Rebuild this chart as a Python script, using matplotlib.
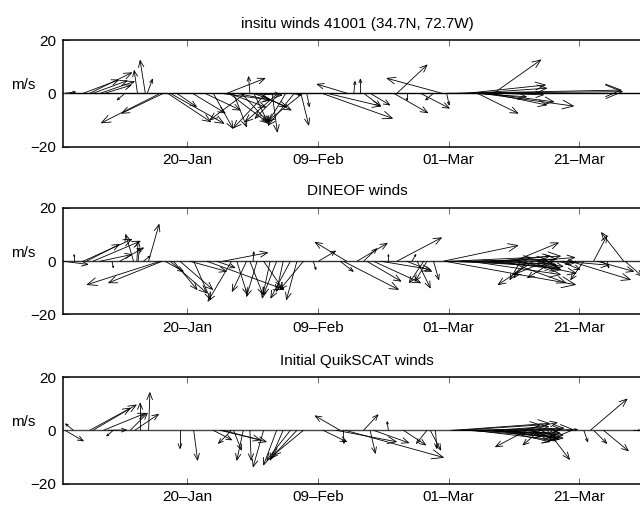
import numpy as np
import matplotlib
matplotlib.use("Agg")
import matplotlib.pyplot as plt
from matplotlib.collections import LineCollection

plt.rcParams['font.family'] = ['Liberation Sans', 'DejaVu Sans']

# time axis: days since 01-Jan
tick_days = [19, 39, 59, 79]
tick_labels = ['20\u2013Jan', '09\u2013Feb', '01\u2013Mar', '21\u2013Mar']
xlim_days = (0, 90)
ylim_ms = (-20, 20)
DAYS_PER_MS = 2.0   # horizontal stretch of the wind sticks (days per m/s)

titles = ['insitu winds 41001 (34.7N, 72.7W)', 'DINEOF winds', 'Initial QuikSCAT winds']

# ---- buoy 41001 ----
insitu_t = [0.3, 3.1, 4.1, 5.7, 4.6, 6.4, 9.5, 11.4, 12.6, 12.9, 14.9, 15.4,
            16.0, 16.4, 17.4, 19.8, 23.0, 25.1, 28.6, 24.1, 26.1, 25.4, 27.3, 29.2,
            34.1, 35.4, 36.7, 32.0, 32.9, 31.1, 29.2, 25.4, 27.3, 37.3, 36.4, 43.5,
            39.6, 40.4, 44.5, 45.5, 46.0, 47.0, 58.0, 51.1, 50.6, 52.6, 54.7, 56.7,
            58.7, 58.8, 60.8, 65.9, 61.8, 62.8, 63.4, 63.9, 64.9, 65.4, 62.3, 66.9,
            87.9, 26.5, 27.9, 29.9, 33.2, 21.7, 34.8]
insitu_u = [0.8, 2.7, 3.2, 2.6, 2.6, 2.0, -0.6, -0.25, -0.4, 0.4, -4.5, -3.2,
            3.3, 4.1, 1.5, 2.5, 1.5, 2.9, -0.1, 3.8, 1.0, 3.0, 2.1, 1.1,
            -1.4, -2.0, -2.7, 0.4, -2.5, -2.5, 2.5, 2.8, 3.1, 0.2, 0.6, -2.3,
            5.4, 4.1, 0.1, 0.0, 1.3, 1.5, -4.2, 2.3, 2.6, 0.0, 2.2, -0.6,
            0.2, 13.4, 12.3, 3.6, 6.0, 5.6, 3.1, 7.1, 5.1, 4.3, 4.3, 3.3,
            0.3, 2.6, -2.7, 2.5, -1.9, 2.7, 0.8]
insitu_v = [0.5, 5.0, 7.7, 4.4, 4.7, 3.0, -2.5, 8.5, 12.3, 5.3, -11.1, -7.5,
            -10.7, -11.3, -5.0, -7.4, -13.2, 5.6, 6.2, -2.5, -12.6, -11.2, -11.2, -11.2,
            -11.2, -12.0, -10.5, -14.5, -10.7, -13.0, -5.0, -5.2, -0.7, -5.0, -11.9, 3.4,
            -9.4, -4.8, 4.4, 5.3, -4.8, -4.4, 5.6, 10.6, -7.3, -2.5, -5.6, -2.5,
            -4.4, 0.6, 1.2, 12.5, 3.1, 1.9, -7.5, -4.8, -3.2, -4.4, -1.3, -0.6,
            0.0, -2.5, -10.0, -6.3, -9.4, -6.3, -0.6]

# ---- DINEOF reconstruction ----
dineof_t = [1.7, 0.0, 3.1, 3.6, 4.6, 5.7, 7.5, 8.7, 10.8, 11.3, 11.5, 12.3,
            13.1, 14.9, 15.2, 15.6, 16.4, 16.9, 17.9, 19.4, 20.0, 25.8, 24.5, 29.1,
            26.6, 28.1, 28.6, 29.7, 30.7, 31.7, 32.7, 33.7, 34.8, 35.8, 36.8, 22.0,
            23.5, 38.3, 43.4, 39.1, 42.4, 42.9, 45.0, 46.0, 46.5, 47.5, 49.8, 51.1,
            48.6, 52.6, 54.2, 55.7, 56.7, 55.2, 53.4, 58.2, 58.4, 58.8, 59.3, 72.0,
            69.0, 60.8, 62.3, 63.9, 65.4, 66.9, 67.9, 70.0, 71.0, 73.0, 75.1, 76.1,
            79.7, 81.2, 85.8, 81.7, 77.6, 83.3, 86.0, 71.5, 61.5, 63.0, 66.0, 68.5,
            69.5, 74.0, 76.5, 78.5, 72.5]
dineof_u = [0.0, 1.9, 3.7, 2.5, 3.6, 2.4, 0.1, 1.8, -0.6, 0.1, 0.1, 0.5,
            0.8, -5.6, -4.1, 1.4, 2.8, 1.8, 2.5, 2.8, 1.3, -1.8, 3.4, 0.05,
            0.8, -1.1, 1.0, -0.8, 1.5, -0.6, -1.0, -0.5, -1.5, -0.8, -1.8, 5.9,
            1.4, 0.2, -2.4, 1.3, 1.0, 4.2, 2.3, 1.0, 2.6, 3.6, 0.0, 3.4,
            3.8, 1.9, 1.0, -0.9, 0.4, -1.1, 0.3, 5.7, 10.0, 8.4, 8.4, -2.7,
            3.4, 7.3, 6.9, 5.0, 5.4, 2.3, 4.5, -0.8, -1.0, 2.7, -2.0, 1.5,
            -1.0, 1.0, -1.7, 2.8, 4.6, 0.1, 1.3, 3.4, 7.0, 6.5, 4.0, 3.0,
            4.5, -2.5, 3.5, -0.8, 2.0]
dineof_v = [2.5, -1.2, 8.2, 6.3, 7.5, 2.5, -2.4, 5.0, 10.0, 7.5, 5.0, 1.9,
            13.8, -8.8, -8.1, -3.8, -11.9, -10.6, -10.6, -3.8, -14.4, -15.0, 3.2, 3.5,
            -12.5, -11.3, -12.5, -13.2, -10.6, -13.8, -12.5, -11.3, -13.8, -14.4, -10.6, -10.6,
            -2.4, -3.1, 7.1, 3.8, -3.8, -10.6, 6.7, 4.7, -7.5, -8.1, 2.5, 8.8,
            -3.1, -3.8, -10.0, -7.5, -6.9, -8.1, 2.5, 5.9, -8.8, -1.9, 1.9, -8.8,
            6.9, -1.2, -5.0, 0.6, -3.1, 1.4, -8.1, -6.9, -6.2, -0.5, -6.2, -3.1,
            -6.9, 9.4, 10.7, -3.8, -6.9, -2.5, -5.6, 1.4, 0.8, -2.5, -1.0, 2.0,
            -4.5, -5.0, -1.5, -1.2, -2.0]

# ---- initial QuikSCAT ----
qscat_t = [1.6, 0.3, 4.1, 4.6, 6.2, 6.9, 7.7, 10.3, 11.0, 11.8, 13.1, 17.9,
           20.0, 23.0, 24.5, 24.0, 25.8, 26.1, 27.6, 28.6, 30.7, 32.7, 33.7, 34.8,
           35.8, 36.8, 39.8, 42.4, 42.9, 41.8, 43.2, 46.0, 47.0, 49.8, 52.1, 55.7,
           57.0, 56.2, 47.5, 59.3, 59.8, 60.8, 61.8, 62.8, 63.9, 64.9, 65.9, 66.9,
           67.9, 71.0, 73.0, 74.1, 69.0, 70.0, 72.0, 77.1, 79.7, 80.7, 81.2, 82.7,
           87.3, 61.0, 63.0, 64.5, 66.0, 68.5, 70.5, 71.5]
qscat_u = [-0.6, 1.4, 3.1, 3.3, 3.2, 1.4, -0.5, 1.3, 1.8, 0.0, 0.1, 0.0,
           0.3, 1.4, 3.3, 3.1, -1.0, 0.6, -0.5, 0.1, -0.8, -1.0, -1.0, -1.8,
           -2.0, -2.3, 1.8, -1.9, 0.05, 4.6, 7.5, 1.1, 0.4, -0.1, 1.7, -0.8,
           0.1, 0.8, 2.7, 9.4, 7.3, 6.1, 6.6, 6.1, 5.1, 5.4, 4.2, 3.8,
           2.6, -2.4, -1.3, 1.7, 3.6, 2.8, 1.7, 0.8, 0.3, 2.8, 1.0, 1.9,
           0.5, 7.5, 6.8, 6.0, 5.0, 4.0, 2.5, 2.2]
qscat_v = [2.4, -4.0, 8.3, 9.5, 6.4, 0.1, -2.1, 6.4, 6.0, 10.2, 14.1, -6.8,
           -11.2, -3.6, -4.3, -3.6, -4.9, -7.4, -11.2, -11.2, -13.7, -13.0, -11.2, -11.2,
           -10.5, -9.3, -4.3, 5.4, -4.9, -4.3, -10.2, 5.8, -8.6, 3.2, -5.5, -4.9,
           -6.8, -7.4, -4.7, 0.2, 2.6, 2.0, -2.4, -3.6, -1.1, -3.0, 1.4, -4.3,
           -2.4, -6.2, -5.5, -10.9, 0.5, 2.9, -4.0, 0.3, -4.3, 11.7, -4.9, -7.7,
           0.0, -1.0, 0.8, -1.8, -2.8, -3.0, -1.5, -3.5]

panels = [(insitu_t, insitu_u, insitu_v),
          (dineof_t, dineof_u, dineof_v),
          (qscat_t, qscat_u, qscat_v)]
baseline_colors = ['k', '#333333', '#444444']

DPI = 100
fig = plt.figure(figsize=(6.4, 5.08), dpi=DPI)

ax_left, ax_width, ax_height = 0.0984, 0.919, 0.2096
ax_bottoms = [0.7116, 0.381, 0.0482]


def draw_sticks(ax, t, u, v):
    t = np.asarray(t, float)
    x1 = t + np.asarray(u, float) * DAYS_PER_MS
    y1 = np.asarray(v, float)
    tr = ax.transData
    p0 = tr.transform(np.column_stack([t, np.zeros_like(t)]))
    p1 = tr.transform(np.column_stack([x1, y1]))
    d = p1 - p0
    L = np.hypot(d[:, 0], d[:, 1])
    L[L == 0] = 1e-6
    unit = d / L[:, None]
    h = np.minimum(0.3 * L, 5.0 + 0.075 * L)
    a = np.radians(22)
    back = -unit
    rot = lambda vec, ang: np.column_stack([vec[:, 0] * np.cos(ang) - vec[:, 1] * np.sin(ang),
                                            vec[:, 0] * np.sin(ang) + vec[:, 1] * np.cos(ang)])
    hl = p1 + rot(back, a) * h[:, None]
    hr = p1 + rot(back, -a) * h[:, None]
    inv = tr.inverted()
    segs = []
    for i in range(len(t)):
        segs.append(inv.transform(np.array([p0[i], p1[i]])))
        segs.append(inv.transform(np.array([hl[i], p1[i], hr[i]])))
    ax.add_collection(LineCollection(segs, colors='k', linewidths=0.6))


for k, (t, u, v) in enumerate(panels):
    ax = fig.add_axes([ax_left, ax_bottoms[k], ax_width, ax_height])
    ax.set_xlim(*xlim_days)
    ax.set_ylim(*ylim_ms)
    ax.axhline(0, color=baseline_colors[k], lw=1.0, zorder=1)
    draw_sticks(ax, t, u, v)
    ax.set_xticks(tick_days)
    ax.set_xticklabels(tick_labels)
    ax.set_yticks([-20, 0, 20])
    ax.tick_params(direction='in', length=4, width=0.6, color='#555555',
                   top=True, right=True, labelsize=11, pad=5)
    for sp in ax.spines.values():
        sp.set_linewidth(1.1)
    ax.set_title(titles[k], fontsize=11, pad=9)
    ax.text(-0.068, 0.51, 'm/s', transform=ax.transAxes, ha='center', va='bottom',
            fontsize=11)

fig.savefig('out.png', dpi=DPI)
